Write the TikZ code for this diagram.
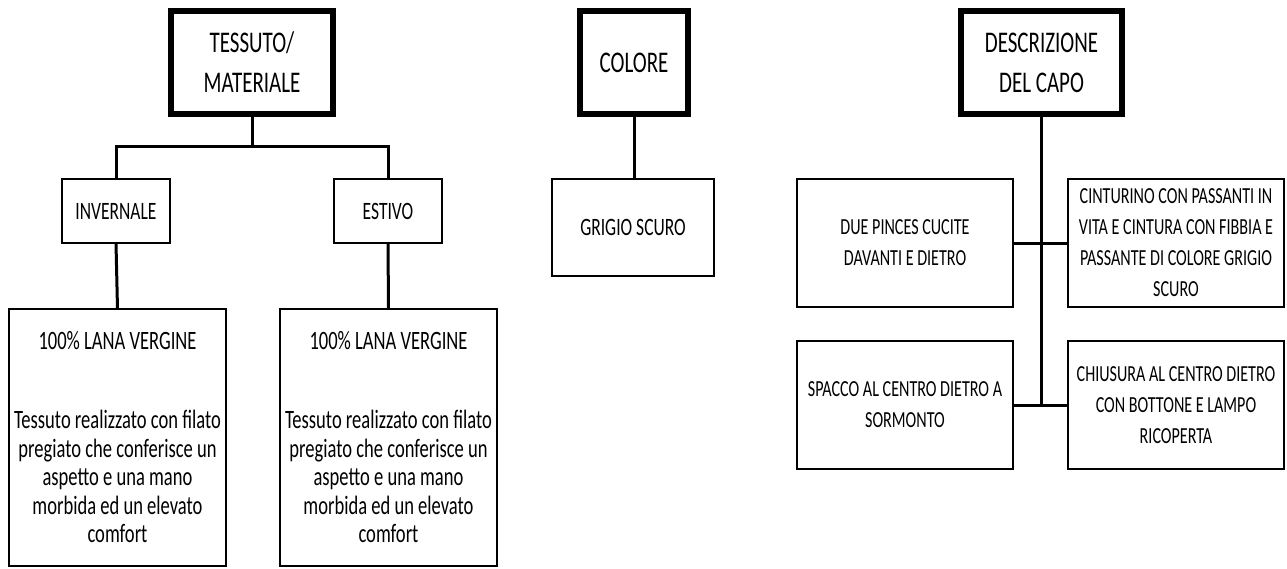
\documentclass[tikz,border=0pt]{standalone}
\usepackage{fontspec}
\setmainfont{Carlito}[FakeStretch=0.7]

\tikzset{
  titolo/.style={draw, line width=6.5pt, inner sep=0pt, outer sep=0pt, align=center,
    font=\fontsize{30}{40}\selectfont},
  voce/.style={draw, line width=2.5pt, inner sep=0pt, outer sep=0pt, align=center,
    font=\fontsize{25}{28.5}\selectfont},
  scheda/.style={voce, minimum width=217pt, minimum height=257pt,
    font=\fontsize{26.5}{28.5}\selectfont},
  dettaglio/.style={voce, minimum width=216pt, minimum height=128pt,
    font=\fontsize{23}{31}\selectfont},
  linea/.style={line width=3pt}
}

\begin{document}
\begin{tikzpicture}[x=1pt,y=-1pt]
\useasboundingbox (0,0) rectangle (1287,568);

\node[titolo, minimum width=162pt, minimum height=103pt] (tessuto) at (252,62.5) {TESSUTO/\\MATERIALE};
\node[voce, minimum width=108pt, minimum height=64pt] (invernale) at (116,211) {INVERNALE};
\node[voce, minimum width=108pt, minimum height=64pt] (estivo) at (388,211) {ESTIVO};
\node[scheda] (lanainv) at (117.5,437.5) {100\% LANA VERGINE\\[50.5pt]Tessuto realizzato con filato\\pregiato che conferisce un\\aspetto e una mano\\morbida ed un elevato\\comfort};
\node[scheda] (lanaest) at (388.5,437.5) {100\% LANA VERGINE\\[50.5pt]Tessuto realizzato con filato\\pregiato che conferisce un\\aspetto e una mano\\morbida ed un elevato\\comfort};

\node[titolo, minimum width=108pt, minimum height=103pt] (colore) at (634,62.5) {COLORE};
\node[voce, minimum width=162pt, minimum height=97pt] (grigio) at (633,227.5) {GRIGIO SCURO};

\node[titolo, minimum width=161pt, minimum height=103pt] (descrizione) at (1041.5,62.5) {DESCRIZIONE\\DEL CAPO};
\node[dettaglio] (pinces) at (905,243) {DUE PINCES CUCITE\\DAVANTI E DIETRO};
\node[dettaglio] (cinturino) at (1176,243) {CINTURINO CON PASSANTI IN\\VITA E CINTURA CON FIBBIA E\\PASSANTE DI COLORE GRIGIO\\SCURO};
\node[dettaglio] (spacco) at (905,405) {SPACCO AL CENTRO DIETRO A\\SORMONTO};
\node[dettaglio] (chiusura) at (1176,405) {CHIUSURA AL CENTRO DIETRO\\CON BOTTONE E LAMPO\\RICOPERTA};

\coordinate (bivio) at (252,146);
\draw[linea] (tessuto.south) -- (bivio);
\draw[linea] (invernale.north) |- (bivio) -| (estivo.north);
\draw[linea] (invernale.south) -- (lanainv.north);
\draw[linea] (estivo.south) -- (lanaest.north);

\draw[linea] (colore.south) -- (colore.south |- grigio.north);

\draw[linea] (descrizione.south) -- (descrizione.south |- spacco.east);
\draw[linea] (pinces.east) -- (cinturino.west);
\draw[linea] (spacco.east) -- (chiusura.west);
\end{tikzpicture}
\end{document}
